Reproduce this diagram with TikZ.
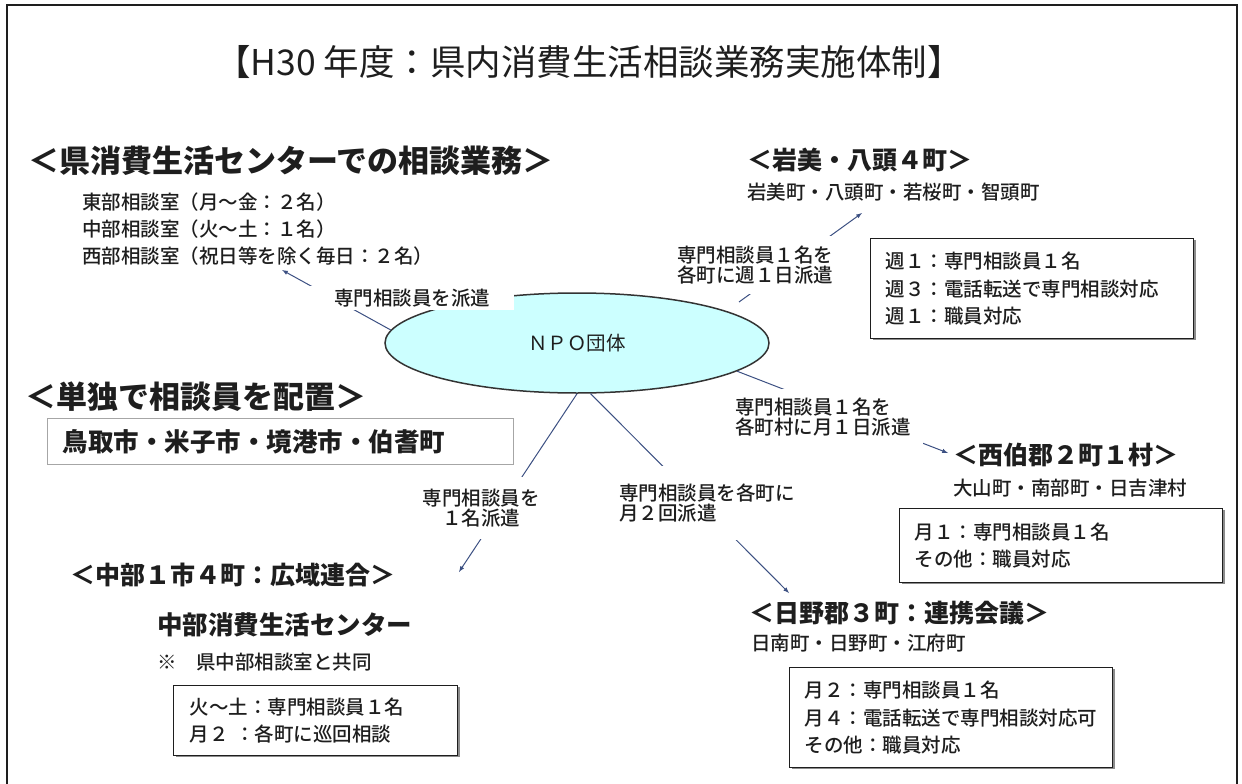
\documentclass[tikz,border=0pt]{standalone}
\usepackage{fontspec}
\setmainfont{Noto Sans CJK JP}
\newfontfamily\mediumjp{Noto Sans CJK JP Medium}
\usetikzlibrary{shapes.geometric,positioning,shadows}
\definecolor{ink}{RGB}{30,30,30}
\definecolor{linkblue}{RGB}{60,80,130}
\definecolor{npofill}{RGB}{204,255,255}
\newcommand{\fsz}[1]{\fontsize{#1}{#1}\selectfont}
\newcommand{\fszl}[2]{\fontsize{#1}{#2}\selectfont}

\begin{document}
\begin{tikzpicture}[x=1pt, y=-1pt,
  every node/.style={inner sep=0pt, text=ink},
  heading/.style={anchor=west, font=\fsz{25}\bfseries},
  bighead/.style={anchor=west, font=\fsz{31}\bfseries},
  towns/.style={anchor=west, font=\fsz{19.5}\mediumjp},
  infobox/.style={draw=ink, line width=1.4pt, fill=white, anchor=north west, align=left,
    font=\fszl{19.5}{27.5}\mediumjp, inner xsep=15pt,
    drop shadow={shadow xshift=2pt, shadow yshift=-1.5pt, fill=black!45, opacity=1}},
  send/.style={draw=linkblue, line width=1pt, -latex},
  sendnote/.style={fill=white, font=\fszl{19.5}{20}\mediumjp}]
  \useasboundingbox (0,0) rectangle (1242,784);
  \draw[ink, line width=1.5pt] (7,784) -- (7,5) -- (1237,5) -- (1237,784);

  \node[font=\fsz{35.5}] (title) at (589,62) {【H30 年度：県内消費生活相談業務実施体制】};

  \node[bighead] (kenhead) at (28,161) {＜県消費生活センターでの相談業務＞};
  \node[anchor=west, align=left, font=\fszl{19.5}{27}\mediumjp] (kenrooms) at (82,229)
    {東部相談室（月～金：２名）\\中部相談室（火～土：１名）\\西部相談室（祝日等を除く毎日：２名）};

  \node[bighead] (solohead) at (25,397) {＜単独で相談員を配置＞};
  \node[draw=black!35, line width=1pt, anchor=north west, minimum width=466pt,
    minimum height=46pt, text width=436pt, inner xsep=15pt, align=left,
    font=\fsz{25.5}\bfseries] (solobox) at (47,418) {鳥取市・米子市・境港市・伯耆町};

  \node[draw=black!80, line width=1.5pt, fill=npofill, ellipse, minimum width=384pt,
    minimum height=100pt, font=\fsz{19.5}] (npo) at (577,343) {ＮＰＯ団体};

  \node[heading] (iwamihead) at (747,160) {＜岩美・八頭４町＞};
  \node[towns] (iwamitowns) at (747,192) {岩美町・八頭町・若桜町・智頭町};
  \node[infobox, text width=293pt, minimum height=100pt] (iwamibox) at (870,238)
    {週１：専門相談員１名\\週３：電話転送で専門相談対応\\週１：職員対応};

  \node[heading] (saihakuhead) at (953,455) {＜西伯郡２町１村＞};
  \node[towns] (saihakutowns) at (953,488) {大山町・南部町・日吉津村};
  \node[infobox, text width=293pt, minimum height=74pt] (saihakubox) at (899,508)
    {月１：専門相談員１名\\その他：職員対応};

  \node[heading] (hinohead) at (749,613) {＜日野郡３町：連携会議＞};
  \node[towns] (hinotowns) at (751,643) {日南町・日野町・江府町};
  \node[infobox, text width=293pt, minimum height=100pt] (hinobox) at (789,667)
    {月２：専門相談員１名\\月４：電話転送で専門相談対応可\\その他：職員対応};

  \node[heading] (chubuhead) at (70,575) {＜中部１市４町：広域連合＞};
  \node[anchor=west, font=\fsz{25.5}\bfseries] (chubucenter) at (157,625) {中部消費生活センター};
  \node[towns] (chubunote) at (157,662) {※　県中部相談室と共同};
  \node[infobox, text width=252pt, minimum height=70pt, inner xsep=16pt] (chububox) at (173,685)
    {火～土：専門相談員１名\\月２ ：各町に巡回相談};

  \coordinate (kentip) at (282,270);
  \coordinate (iwamistart) at (739,302);
  \coordinate (iwamitip) at (862,213);
  \coordinate (saihakutip) at (948,453);
  \coordinate (hinotip) at (789,593);
  \coordinate (chubutip) at (459,572);

  \draw[send] (npo.176) -- (kentip);
  \draw[send] (iwamistart) -- (iwamitip);
  \draw[send] (npo.-10) -- (saihakutip);
  \draw[send] (npo.-75) -- (hinotip);
  \draw[send] (npo.-90) -- (chubutip);

  \node[sendnote, minimum width=204pt, minimum height=24pt] (kennote) at (412,298) {専門相談員を派遣};
  \node[sendnote, align=left, minimum width=170pt, minimum height=58pt] (iwaminote) at (755,265)
    {専門相談員１名を\\各町に週１日派遣};
  \node[sendnote, align=left, minimum width=200pt, minimum height=56pt] (saihakunote) at (823,417)
    {専門相談員１名を\\各町村に月１日派遣};
  \node[sendnote, align=left, minimum width=188pt, minimum height=74pt] (hinonote) at (707,503)
    {専門相談員を各町に\\月２回派遣};
  \node[sendnote, align=center, minimum width=130pt, minimum height=62pt] (chubunote2) at (481,508)
    {専門相談員を\\１名派遣};
\end{tikzpicture}
\end{document}
